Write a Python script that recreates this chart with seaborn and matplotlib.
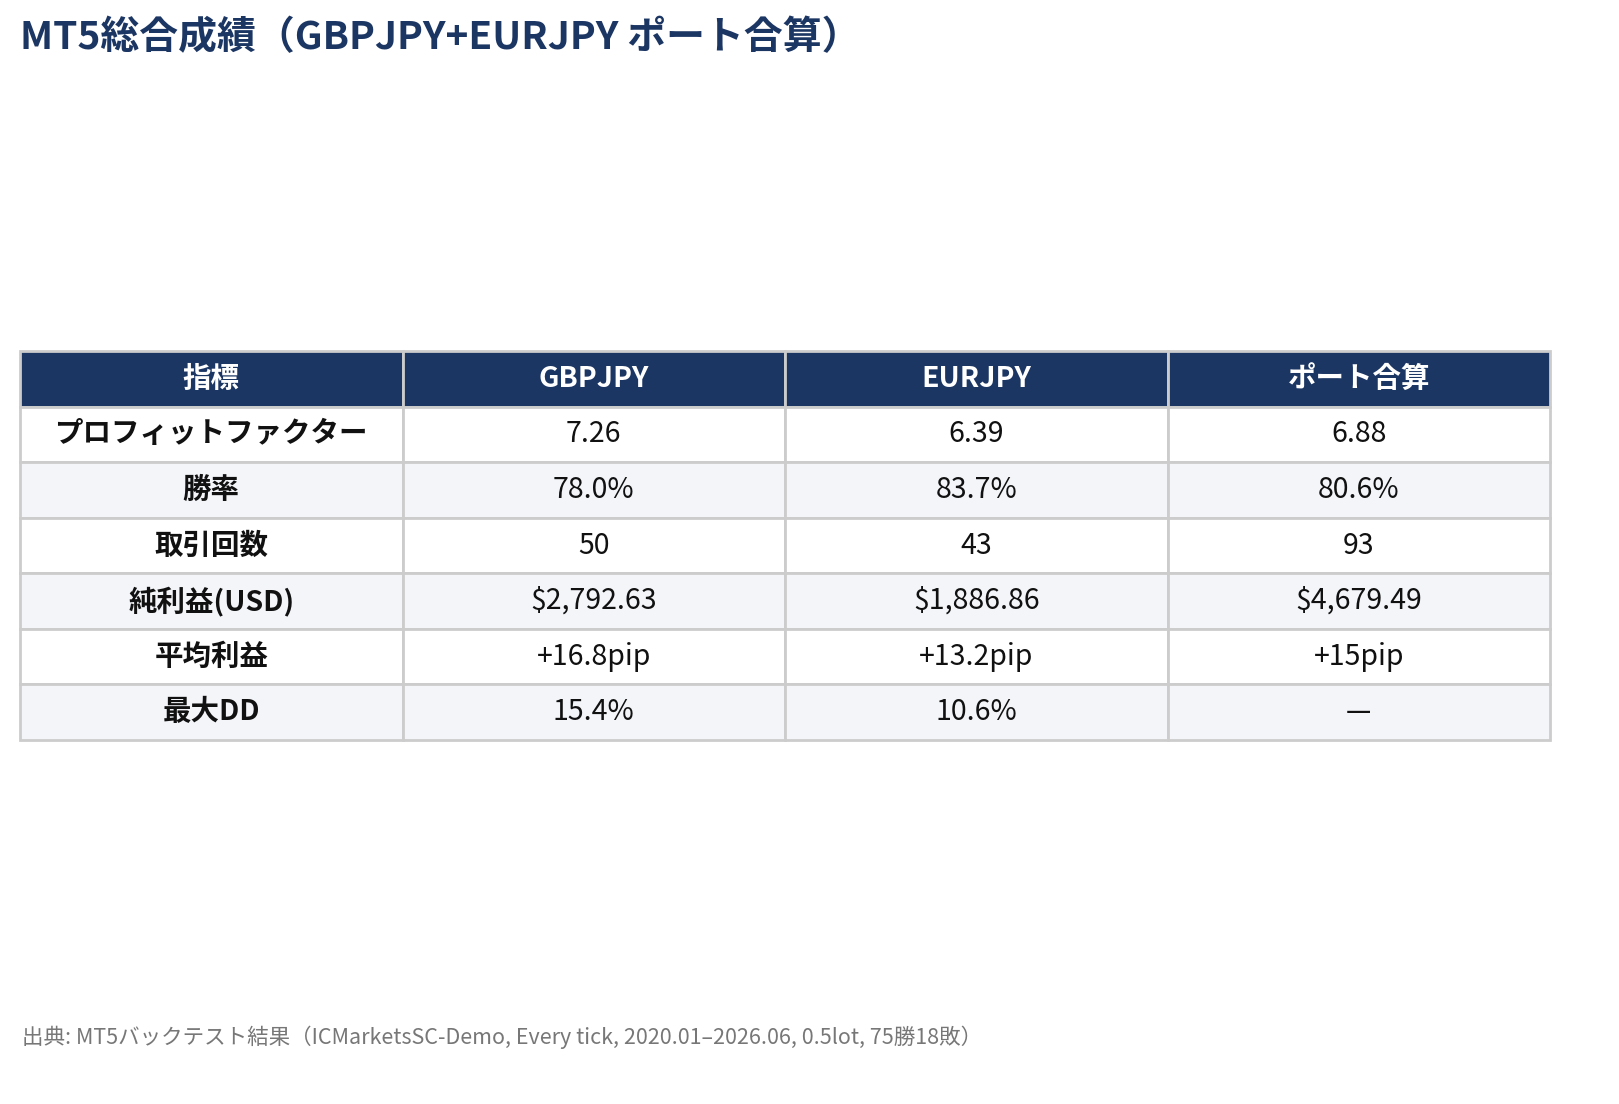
import matplotlib
matplotlib.use("Agg")
import matplotlib.pyplot as plt
import seaborn as sns

sns.set_theme(style="white")
plt.rcParams['font.family'] = ['Noto Sans CJK JP', 'DejaVu Sans']

title = "MT5総合成績（GBPJPY+EURJPY ポート合算）"
source = "出典: MT5バックテスト結果（ICMarketsSC-Demo, Every tick, 2020.01–2026.06, 0.5lot, 75勝18敗）"
columns = ["指標", "GBPJPY", "EURJPY", "ポート合算"]
metrics = ["プロフィットファクター", "勝率", "取引回数", "純利益(USD)", "平均利益", "最大DD"]
gbpjpy = ["7.26", "78.0%", "50", "$2,792.63", "+16.8pip", "15.4%"]
eurjpy = ["6.39", "83.7%", "43", "$1,886.86", "+13.2pip", "10.6%"]
port = ["6.88", "80.6%", "93", "$4,679.49", "+15pip", "—"]

navy = "#1c3664"
W, H = 1619, 1104
fig = plt.figure(figsize=(W / 100, H / 100), dpi=100)
ax = fig.add_axes([0, 0, 1, 1])
ax.axis("off")

cells = [list(r) for r in zip(metrics, gbpjpy, eurjpy, port)]
x0, x1, y0, y1 = 20 / W, 1550 / W, 1 - 740 / H, 1 - 351 / H
tbl = ax.table(cellText=cells, colLabels=columns, cellLoc="center",
               bbox=[x0, y0, x1 - x0, y1 - y0])
tbl.auto_set_font_size(False)
for (r, c), cell in tbl.get_celld().items():
    cell.set_edgecolor("#cccccc")
    cell.set_linewidth(2)
    t = cell.get_text()
    t.set_fontsize(20.5)
    if r == 0:
        cell.set_facecolor(navy)
        t.set_color("white")
        t.set_fontweight("bold")
    else:
        cell.set_facecolor("#f3f5f9" if r % 2 == 0 else "white")
        t.set_color("#111111")
        if c == 0:
            t.set_fontweight("bold")

fig.text(20 / W, 1 - 38 / H, title, fontsize=28, fontweight="bold", color=navy, va="center", ha="left")
fig.text(22 / W, 1 - 1037 / H, source, fontsize=15.5, color="#777777", va="center", ha="left")

fig.savefig("out.png", dpi=100, facecolor="white")
